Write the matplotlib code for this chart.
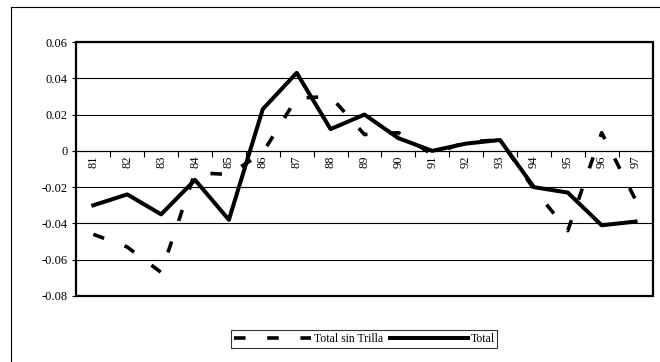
import matplotlib
matplotlib.use('Agg')
import matplotlib.pyplot as plt
from matplotlib.patches import Rectangle
from matplotlib.lines import Line2D

plt.rcParams['font.family'] = ['Liberation Serif', 'DejaVu Serif']

# Datos
anios = ['81', '82', '83', '84', '85', '86', '87', '88', '89',
         '90', '91', '92', '93', '94', '95', '96', '97']
total_sin_trilla = [-0.046, -0.053, -0.067, -0.012, -0.013, -0.001, 0.029, 0.030, 0.009,
                    0.010, -0.002, 0.005, 0.006, -0.021, -0.044, 0.010, -0.027]
total = [-0.030, -0.024, -0.035, -0.016, -0.038, 0.023, 0.043, 0.012, 0.020,
         0.007, 0.000, 0.004, 0.006, -0.020, -0.023, -0.041, -0.039]
yticks = [0.06, 0.04, 0.02, 0, -0.02, -0.04, -0.06, -0.08]
ytick_labels = ['0.06', '0.04', '0.02', '0', '-0.02', '-0.04', '-0.06', '-0.08']

fig = plt.figure(figsize=(6.6, 3.62), dpi=100)
ax = fig.add_axes([76.4 / 660, 1 - 296 / 362, (652.5 - 76.4) / 660, (296 - 42) / 362])

x = list(range(len(anios)))
ax.plot(x, total_sin_trilla, color='black', lw=2.6, linestyle=(0, (3.2, 6.0)),
        label='Total sin Trilla', zorder=3)
ax.plot(x, total, color='black', lw=2.9, label='Total', zorder=4)

ax.set_xlim(-0.5, len(anios) - 0.5)
ax.set_ylim(-0.08, 0.06)

# Rejilla horizontal
for t in yticks:
    ax.axhline(t, color='black', lw=0.8, zorder=1)

# Eje de categorías sobre el cero
for s in ['top', 'right', 'left']:
    ax.spines[s].set_visible(False)
ax.spines['bottom'].set_position(('data', 0))
ax.spines['bottom'].set_linewidth(0.8)
ax.set_xticks([i - 0.5 for i in range(len(anios) + 1)])
ax.set_xticklabels([])
ax.set_xticks(x, minor=True)
ax.set_xticklabels(anios, minor=True, rotation=90, fontsize=9)
ax.tick_params(axis='x', which='major', direction='out', length=4, width=0.8)
ax.tick_params(axis='x', which='minor', length=0, pad=3)

ax.set_yticks(yticks)
ax.set_yticklabels(ytick_labels, fontsize=9)
ax.tick_params(axis='y', direction='out', length=3, width=0.8, pad=3.5)

# Marco del área de trazado
ax.add_patch(Rectangle((0, 0), 1, 1, transform=ax.transAxes, fill=False,
                       lw=1.6, edgecolor='black', clip_on=False, zorder=5))

# Marco exterior
fig.add_artist(Line2D([11 / 660, 1.0], [1 - 7 / 362] * 2, transform=fig.transFigure,
                      color='black', lw=0.8))
fig.add_artist(Line2D([11 / 660] * 2, [0.0, 1 - 7 / 362], transform=fig.transFigure,
                      color='black', lw=0.8))

leg = fig.legend(loc='center', bbox_to_anchor=(364 / 660, 1 - 339 / 362), ncol=2,
                 fontsize=8.5, frameon=True, fancybox=False, handlelength=6.6,
                 handletextpad=0.2, columnspacing=0.6, borderpad=0.25,
                 borderaxespad=0)
leg.get_frame().set_edgecolor('black')
leg.get_frame().set_linewidth(0.8)

fig.savefig('out.png', dpi=100)
